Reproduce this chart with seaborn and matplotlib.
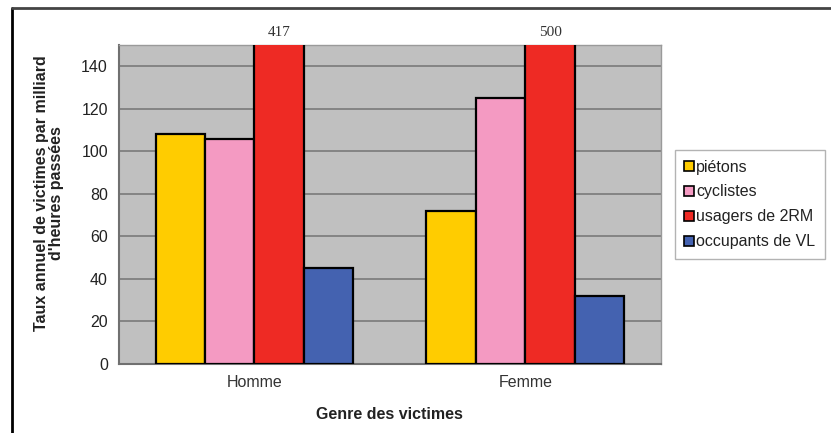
import pandas as pd
import matplotlib.pyplot as plt
import seaborn as sns

# donnees
genres = ['Homme', 'Femme']
usagers = ['piétons', 'cyclistes', 'usagers de 2RM', 'occupants de VL']
pietons = [108, 72]
cyclistes = [106, 125]
deux_rm = [417, 500]
occupants_vl = [45, 32]
couleurs = ['#FFCC00', '#F49AC2', '#EE2A24', '#4462B0']

rows = []
for i, g in enumerate(genres):
    for u, vals in zip(usagers, [pietons, cyclistes, deux_rm, occupants_vl]):
        rows.append({'genre': g, 'usager': u, 'taux': vals[i]})
df = pd.DataFrame(rows)

sns.set_style('white')
plt.rcParams['font.family'] = ['Liberation Sans', 'DejaVu Sans']

fig = plt.figure(figsize=(8.31, 4.33), dpi=100)
ax = fig.add_axes([0.1432, 0.1594, 0.652, 0.7367])
ax.set_facecolor('#C0C0C0')

sns.barplot(data=df, x='genre', y='taux', hue='usager', hue_order=usagers,
            palette=couleurs, width=0.73, edgecolor='black', linewidth=1.6,
            saturation=1, ax=ax, zorder=3)

ax.set_ylim(0, 150)
ax.set_yticks(range(0, 141, 20))
ax.grid(axis='y', color='#7F7F7F', linewidth=1.3, zorder=0)
ax.set_axisbelow(True)
for s in ['top', 'right']:
    ax.spines[s].set_color('#9A9A9A')
    ax.spines[s].set_linewidth(1.0)
for s in ['left', 'bottom']:
    ax.spines[s].set_color('#707070')
    ax.spines[s].set_linewidth(1.5)

ax.tick_params(axis='y', length=5, width=1.2, color='#707070', labelsize=11.5,
               labelcolor='#222222', pad=3)
ax.tick_params(axis='x', which='major', length=0, labelsize=11.5,
               labelcolor='#333333', pad=8)
ax.set_xticks([-0.5, 0.5, 1.5], minor=True)
ax.tick_params(axis='x', which='minor', length=5, width=1.2, color='#707070')

ax.set_ylabel("Taux annuel de victimes par milliard\nd'heures passées",
              fontsize=11.5, fontweight='bold', linespacing=1.0, color='#222222')
ax.yaxis.set_label_coords(-0.102, 0.535)
ax.set_xlabel('Genre des victimes', fontsize=11.5, fontweight='bold', labelpad=12,
              color='#222222')

# valeurs des barres coupees
for bar, v in zip(ax.containers[2], deux_rm):
    ax.text(bar.get_x() + bar.get_width() / 2, 153, str(v), ha='center', va='bottom',
            fontsize=11, family='Liberation Serif', color='#333333', clip_on=False)

ax.legend_.remove()
leg = fig.legend(*ax.get_legend_handles_labels(), loc='upper left',
                 bbox_to_anchor=(0.812, 0.6536), frameon=True, fancybox=False,
                 edgecolor='#A0A0A0', fontsize=11.5, handlelength=0.6, handleheight=0.6,
                 handletextpad=0.15, labelspacing=0.62, borderpad=0.6, borderaxespad=0)
leg.get_frame().set_linewidth(1.0)
for t in leg.get_texts():
    t.set_color('#222222')
for h in leg.legend_handles:
    h.set_linewidth(1.2)

# cadre exterieur
fig.add_artist(plt.Line2D([12 / 831, 12 / 831], [0, 1 - 8 / 433], color='black', lw=2.0))
fig.add_artist(plt.Line2D([12 / 831, 1], [1 - 8 / 433, 1 - 8 / 433], color='#444444', lw=2.0))

plt.savefig('out.png', dpi=100)
